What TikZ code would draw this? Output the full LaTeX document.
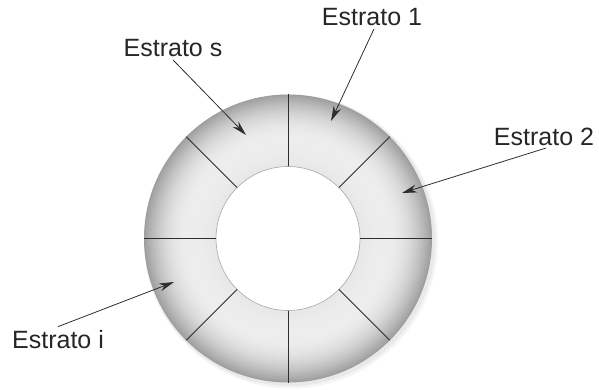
\documentclass[tikz,border=0pt]{standalone}
\usepackage{fontspec}
\setmainfont{Liberation Sans}
\usetikzlibrary{arrows.meta,calc}
\definecolor{txtgray}{HTML}{262626}
\definecolor{linegray}{HTML}{2E2E2E}
\definecolor{innergray}{HTML}{A8A8A8}
\begin{document}
\begin{tikzpicture}[x=1pt,y=-1pt,
  lbl/.style={font=\fontsize{25}{25}\selectfont, text=txtgray, inner sep=1pt},
  pointer/.style={draw=linegray, line width=0.8pt, -{Stealth[length=15pt,width=8pt]}},
  spoke/.style={draw=linegray, line width=0.9pt}]
\useasboundingbox (0,0) rectangle (599,390);
\coordinate (c) at (288,238.5);
% soft shadow
\fill[black,opacity=0.04,even odd rule] ($(c)+(3,3)$) circle (147) (c) circle (140);
\fill[black,opacity=0.05,even odd rule] ($(c)+(2,2)$) circle (145.5) (c) circle (140);
% ring with radial gradient (concentric fills)
\foreach \r in {144,143,...,73}{
  \pgfmathsetmacro{\p}{\r>100 ? 7+31*((\r-100)/44)^2 : 7+2.5*((100-\r)/28)^2}
  \fill[black!\p] (c) circle (\r);
}
\fill[white] (c) circle (72);
\draw[innergray, line width=0.6pt] (c) circle (72);
\foreach \a in {0,45,...,315}
  \draw[spoke] ($(c)+(\a:72)$) -- ($(c)+(\a:144)$);
% labels
\node[lbl] (e1) at (372,17) {Estrato 1};
\node[lbl] (e2) at (544,137) {Estrato 2};
\node[lbl] (es) at (173,48) {Estrato s};
\node[lbl] (ei) at (58,340) {Estrato i};
% arrow tips
\coordinate (t1) at (331,121);
\coordinate (t2) at (402,193);
\coordinate (ts) at (246,135);
\coordinate (ti) at (174,282);
\draw[pointer] (e1.south) ++(2,2) -- (t1);
\draw[pointer] (e2.south) ++(2,1) -- (t2);
\draw[pointer] (es.south) ++(0,2) -- (ts);
\draw[pointer] (ei.north) ++(0,-3) -- (ti);
\end{tikzpicture}
\end{document}
